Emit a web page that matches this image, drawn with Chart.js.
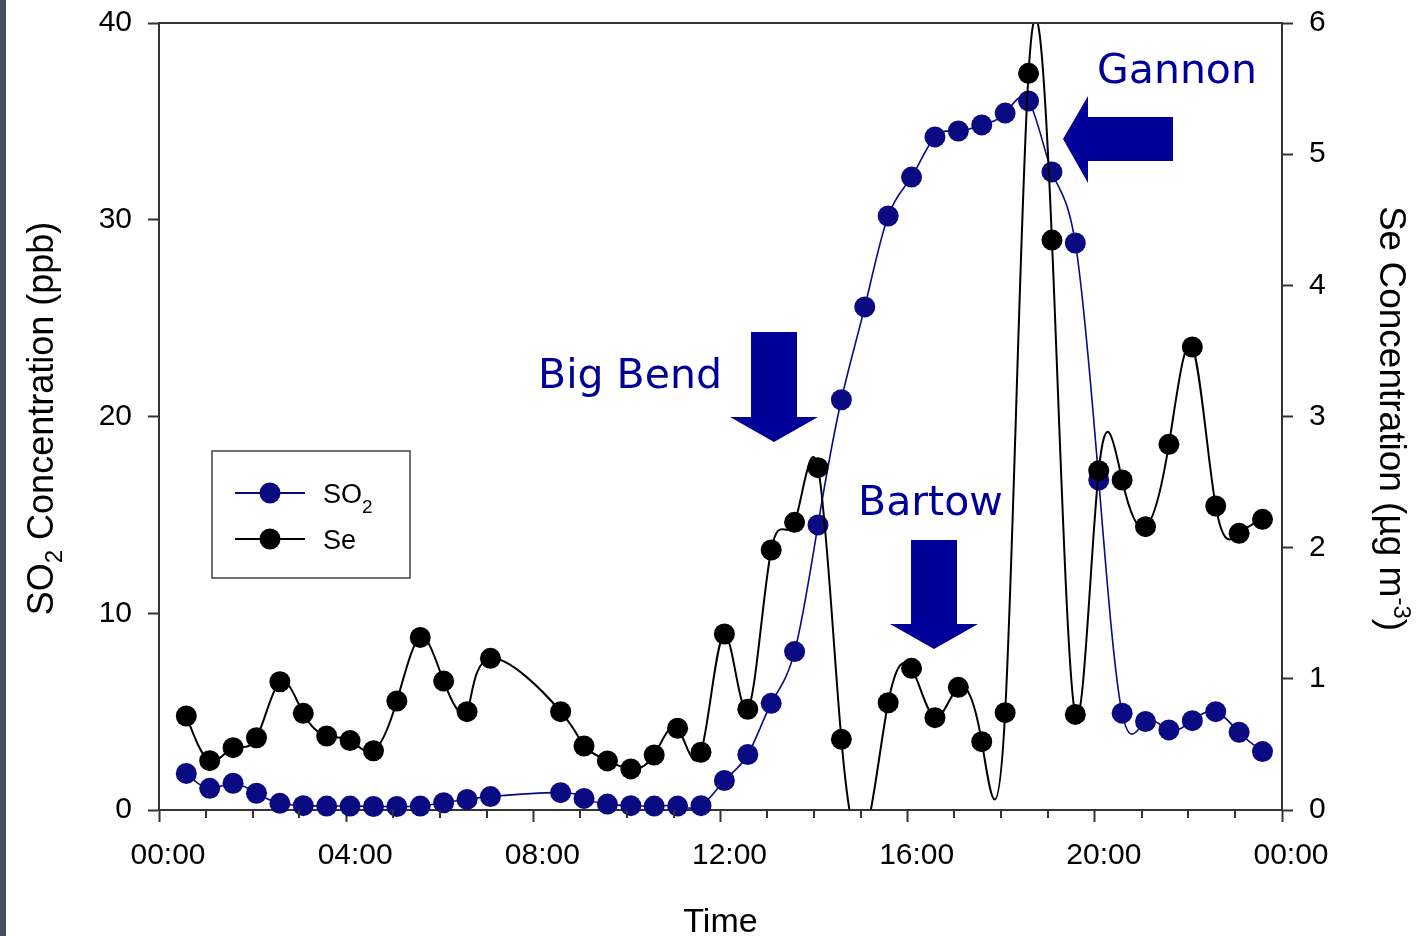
<!DOCTYPE html>
<html><head><meta charset="utf-8">
<script src="https://cdn.jsdelivr.net/npm/chart.js@4.4.0/dist/chart.umd.min.js"></script>
<style>
html,body{margin:0;padding:0;background:#fff;}
#wrap{position:relative;width:1427px;height:936px;overflow:hidden;}
#strip{position:absolute;left:0;top:0;width:6px;height:936px;background:#4b4d5e;z-index:2;}
</style></head><body>
<div id="wrap"><canvas id="c" width="1427" height="936"></canvas><div id="strip"></div></div>
<script>
// ---- data ----
const times = ["00:35","01:05","01:35","02:05","02:35","03:05","03:35","04:05","04:35","05:05",
  "05:35","06:05","06:35","07:05","07:35","08:05","08:35","09:05","09:35","10:05",
  "10:35","11:05","11:35","12:05","12:35","13:05","13:35","14:05","14:35","15:05",
  "15:35","16:05","16:35","17:05","17:35","18:05","18:35","19:05","19:35","20:05",
  "20:35","21:05","21:35","22:05","22:35","23:05","23:35"];
const so2 = [1.86,1.10,1.36,0.85,0.34,0.22,0.20,0.20,0.18,0.18,
  0.20,0.37,0.54,0.68,null,null,0.88,0.59,0.30,0.22,
  0.20,0.20,0.22,1.50,2.82,5.42,8.05,14.49,20.85,25.57,
  30.19,32.17,34.21,34.51,34.82,35.42,36.04,32.43,28.82,16.77,
  4.92,4.50,4.07,4.54,5.00,3.95,2.97];
// Se at 15:05 is below the axis (off-scale, no symbol shown)
const se = [0.717,0.376,0.475,0.551,0.978,0.737,0.564,0.529,0.452,0.831,
  1.316,0.983,0.750,1.156,null,null,0.750,0.488,0.374,0.313,
  0.419,0.623,0.440,1.342,0.768,1.982,2.193,2.610,0.539,-0.20,
  0.818,1.080,0.704,0.935,0.521,0.742,5.616,4.345,0.729,2.587,
  2.516,2.160,2.788,3.530,2.318,2.109,2.216];
const xTickLabels = ["00:00","04:00","08:00","12:00","16:00","20:00","00:00"];
const yTickLabels = ["0","10","20","30","40"];
const y2TickLabels = ["0","1","2","3","4","5","6"];

const NAVY = '#0a0a82';
const ANNO = '#000099';
const AXIS = '#333333';
const TICKFONT = "'Liberation Sans', Arial, sans-serif";

function toHours(t){const p=t.split(':').map(Number);return p[0]+p[1]/60;}
const so2Pts = times.map((t,i)=>({x:toHours(t),y:so2[i]})).filter(p=>p.y!==null);
const sePts  = times.map((t,i)=>({x:toHours(t),y:se[i]})).filter(p=>p.y!==null);

// natural cubic spline (parametrised by point order) through the points Chart.js placed
function naturalDeriv(v){
  const n=v.length, M=new Array(n).fill(0), cp=[], dp=[];
  for(let i=1;i<n-1;i++){
    const d=6*(v[i+1]-2*v[i]+v[i-1]);
    const den=4-(i>1?cp[i-1]:0);
    cp[i]=1/den; dp[i]=(d-(i>1?dp[i-1]:0))/den;
  }
  for(let i=n-2;i>=1;i--) M[i]=dp[i]-cp[i]*M[i+1];
  const m=[];
  for(let i=0;i<n-1;i++) m[i]=(v[i+1]-v[i])-(2*M[i]+M[i+1])/6;
  m[n-1]=(v[n-1]-v[n-2])+(M[n-2]+2*M[n-1])/6;
  return m;
}
const splinePlugin = {
  id:'spline',
  beforeDatasetDraw(chart, args){
    const ds = chart.data.datasets[args.index];
    if(!ds.spline) return;
    const meta = args.meta, pts = meta.data, n = pts.length;
    if(n<3) return;
    const mx = naturalDeriv(pts.map(p=>p.x)), my = naturalDeriv(pts.map(p=>p.y));
    for(let i=0;i<n;i++){
      const p=pts[i];
      p.cp1x=p.x-mx[i]/3; p.cp1y=p.y-my[i]/3;
      p.cp2x=p.x+mx[i]/3; p.cp2y=p.y+my[i]/3;
    }
    meta.dataset._pointsUpdated = true;
  }
};

function richText(ctx, parts, x, y, align){
  let total=0;
  parts.forEach(p=>{ctx.font=p.size+"px "+TICKFONT; p.w=ctx.measureText(p.t).width; total+=p.w;});
  let cx = align==='center' ? x-total/2 : x;
  ctx.textAlign='left'; ctx.textBaseline='alphabetic';
  parts.forEach(p=>{ctx.font=p.size+"px "+TICKFONT; ctx.fillText(p.t,cx,y+(p.dy||0)); cx+=p.w;});
}

const decorPlugin = {
  id:'decor',
  afterDraw(chart){
    const ctx=chart.ctx, ca=chart.chartArea, xs=chart.scales.x;
    ctx.save();
    ctx.strokeStyle=AXIS; ctx.lineWidth=2;
    ctx.beginPath(); ctx.moveTo(ca.left,ca.top); ctx.lineTo(ca.right,ca.top); ctx.stroke();
    for(let hh=1;hh<24;hh++){ if(hh%4===0) continue;
      const px=Math.round(xs.getPixelForValue(hh));
      ctx.beginPath(); ctx.moveTo(px,ca.bottom); ctx.lineTo(px,ca.bottom+8); ctx.stroke();
    }
    ctx.fillStyle='#000';
    ctx.font="34px "+TICKFONT; ctx.textAlign='center'; ctx.textBaseline='alphabetic';
    ctx.fillText('Time',(ca.left+ca.right)/2,932);
    const midY=(ca.top+ca.bottom)/2+2;
    ctx.save(); ctx.translate(53,midY); ctx.rotate(-Math.PI/2);
    richText(ctx,[{t:'SO',size:36},{t:'2',size:24,dy:9},{t:' Concentration (ppb)',size:36}],0,0,'center');
    ctx.restore();
    ctx.save(); ctx.translate(1380,midY); ctx.rotate(Math.PI/2);
    richText(ctx,[{t:'Se Concentration (\u00B5g m',size:37},{t:'-3',size:24,dy:-14},{t:')',size:37}],0,0,'center');
    ctx.restore();
    // legend
    const lx=ca.left+53, ly=ca.top+428;
    ctx.fillStyle='#fff'; ctx.fillRect(lx,ly,198,127);
    ctx.strokeStyle='#444'; ctx.lineWidth=1.5; ctx.strokeRect(lx,ly,198,127);
    const rows=[{c:NAVY,y:ly+42,parts:[{t:'SO',size:27},{t:'2',size:19,dy:10}]},
                {c:'#000',y:ly+88,parts:[{t:'Se',size:27}]}];
    rows.forEach(r=>{
      ctx.strokeStyle=r.c; ctx.lineWidth=2;
      ctx.beginPath(); ctx.moveTo(lx+23,r.y); ctx.lineTo(lx+93,r.y); ctx.stroke();
      ctx.fillStyle=r.c; ctx.beginPath(); ctx.arc(lx+58,r.y,10.5,0,Math.PI*2); ctx.fill();
      ctx.fillStyle='#000'; richText(ctx,r.parts,lx+111,r.y+10,'left');
    });
    // annotations
    ctx.fillStyle=ANNO;
    ctx.font="41px 'DejaVu Sans', Verdana, sans-serif"; ctx.textAlign='left'; ctx.textBaseline='alphabetic';
    ctx.fillText('Gannon',1097,83);
    ctx.fillText('Big Bend',538,388);
    ctx.fillText('Bartow',858,515);
    ctx.beginPath();
    ctx.moveTo(1063,139); ctx.lineTo(1088,96); ctx.lineTo(1088,117); ctx.lineTo(1173,117);
    ctx.lineTo(1173,161); ctx.lineTo(1088,161); ctx.lineTo(1088,183); ctx.closePath(); ctx.fill();
    function down(x0,x1,yTop,yBase,hx0,hx1,tipY){
      const tx=(hx0+hx1)/2;
      ctx.beginPath(); ctx.moveTo(x0,yTop); ctx.lineTo(x1,yTop); ctx.lineTo(x1,yBase); ctx.lineTo(hx1,yBase);
      ctx.lineTo(tx,tipY); ctx.lineTo(hx0,yBase); ctx.lineTo(x0,yBase); ctx.closePath(); ctx.fill();
    }
    down(751,797,332,417,730,818,442);
    down(911,957,540,624,890,978,649);
    ctx.restore();
  }
};

const tickFont={family:TICKFONT,size:30};
const symbolRadius = (c)=> (c.raw && c.raw.y < 0) ? 0 : 10.5;
new Chart(document.getElementById('c'),{
  type:'line',
  data:{datasets:[
    {label:'Se', data:sePts, yAxisID:'y2', showLine:false, pointRadius:symbolRadius, pointHoverRadius:symbolRadius,
      pointBackgroundColor:'#000', pointBorderWidth:0, clip:false},
    {label:'Se curve', data:sePts, yAxisID:'y2', pointRadius:0, borderColor:'#000', borderWidth:2,
      tension:0.4, spline:true, fill:false},
    {label:'SO2', data:so2Pts, yAxisID:'y', showLine:false, pointRadius:symbolRadius, pointHoverRadius:symbolRadius,
      pointBackgroundColor:NAVY, pointBorderWidth:0, clip:false},
    {label:'SO2 curve', data:so2Pts, yAxisID:'y', pointRadius:0, borderColor:NAVY, borderWidth:1.6,
      tension:0.4, spline:true, fill:false}
  ]},
  options:{
    responsive:false, animation:false, events:[],
    layout:{padding:{top:23,left:0,right:0,bottom:0}},
    plugins:{legend:{display:false},tooltip:{enabled:false},title:{display:false}},
    scales:{
      x:{type:'linear',min:0,max:24,position:'bottom',
        ticks:{stepSize:4,autoSkip:false,maxRotation:0,color:'#000',font:tickFont,padding:16,labelOffset:9,
          callback:(v)=>xTickLabels[Math.round(v/4)]},
        grid:{drawOnChartArea:false,drawTicks:true,tickLength:12,tickColor:AXIS,tickWidth:2},
        border:{display:true,color:AXIS,width:2},
        afterFit(s){s.height=126;s.paddingLeft=0;s.paddingRight=0;}},
      y:{type:'linear',position:'left',min:0,max:40,
        ticks:{stepSize:10,color:'#000',font:tickFont,padding:16,callback:(v)=>yTickLabels[Math.round(v/10)]},
        grid:{drawOnChartArea:false,drawTicks:true,tickLength:11,tickColor:AXIS,tickWidth:2},
        border:{display:true,color:AXIS,width:2},
        afterFit(s){s.width=159;s.paddingTop=0;s.paddingBottom=0;}},
      y2:{type:'linear',position:'right',min:0,max:6,
        ticks:{stepSize:1,color:'#000',font:tickFont,padding:16,callback:(v)=>y2TickLabels[Math.round(v)]},
        grid:{drawOnChartArea:false,drawTicks:true,tickLength:11,tickColor:AXIS,tickWidth:2},
        border:{display:true,color:AXIS,width:2},
        afterFit(s){s.width=145;s.paddingTop=0;s.paddingBottom=0;}}
    }
  },
  plugins:[splinePlugin,decorPlugin]
});
</script>
</body></html>
